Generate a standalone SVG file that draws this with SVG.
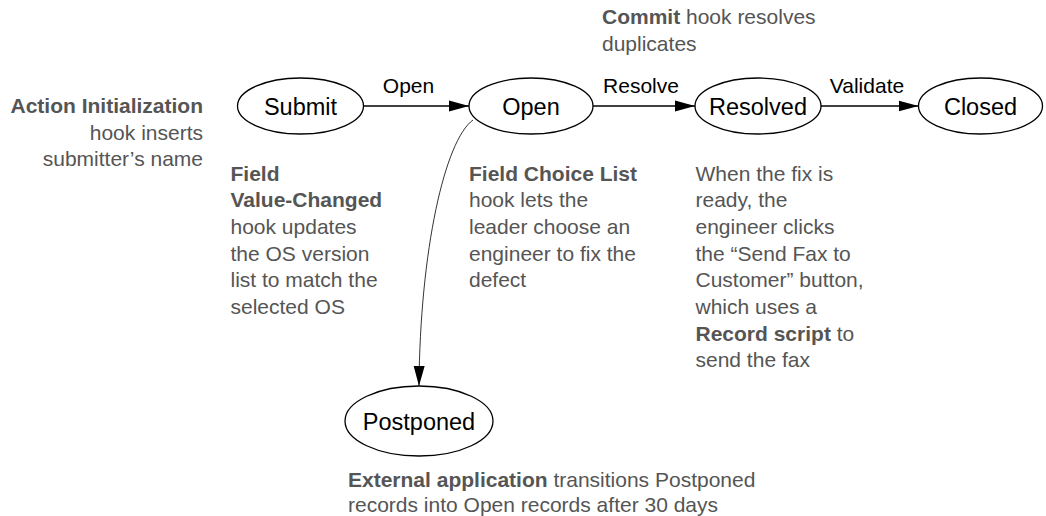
<svg xmlns="http://www.w3.org/2000/svg" width="1046" height="516" viewBox="0 0 1046 516">
  <style>
    .node ellipse { fill: #fff; stroke: #000; stroke-width: 1.3; }
    .node text { font-family: "Liberation Sans", Arial, sans-serif; font-size: 23.5px; fill: #000; text-anchor: middle; }
    .edge { fill: none; stroke: #000; stroke-width: 1.3; }
    .thin { stroke-width: 0.8; }
    .elabel { font-family: "Liberation Sans", Arial, sans-serif; font-size: 21px; fill: #000; text-anchor: middle; }
    .note { font-family: "Liberation Sans", Arial, sans-serif; font-size: 21px; fill: #555; }
    .note .b { font-weight: bold; }
  </style>
  <defs>
    <marker id="arrow" viewBox="0 0 20 12" refX="20" refY="6" markerWidth="20" markerHeight="12" markerUnits="userSpaceOnUse" orient="auto">
      <path d="M0,0.5 L20,6 L0,11.5 z" fill="#000"/>
    </marker>
  </defs>

  <!-- state transitions -->
  <g id="connectors">
    <line class="edge" x1="363.5" y1="106" x2="469" y2="106" marker-end="url(#arrow)"/>
    <text class="elabel" x="408.5" y="93">Open</text>
    <line class="edge" x1="593" y1="106" x2="695" y2="106" marker-end="url(#arrow)"/>
    <text class="elabel" x="641" y="93">Resolve</text>
    <line class="edge" x1="821" y1="106" x2="918.5" y2="106" marker-end="url(#arrow)"/>
    <text class="elabel" x="867" y="93">Validate</text>
    <path class="edge thin" d="M473,120 C445,140 420,250 419,386" marker-end="url(#arrow)"/>
  </g>

  <!-- states -->
  <g id="submit" class="node">
    <ellipse cx="300.5" cy="106" rx="63" ry="28"/>
    <text x="300.5" y="114.5">Submit</text>
  </g>
  <g id="open" class="node">
    <ellipse cx="531" cy="106" rx="62" ry="28"/>
    <text x="531" y="114.5">Open</text>
  </g>
  <g id="resolved" class="node">
    <ellipse cx="758" cy="106" rx="63" ry="28"/>
    <text x="758" y="114.5">Resolved</text>
  </g>
  <g id="closed" class="node">
    <ellipse cx="980.5" cy="106" rx="62" ry="28"/>
    <text x="980.5" y="114.5">Closed</text>
  </g>
  <g id="postponed" class="node">
    <ellipse cx="419" cy="421" rx="74" ry="35"/>
    <text x="419" y="429.5">Postponed</text>
  </g>

  <!-- hook annotations -->
  <g id="note-submit" class="note" text-anchor="end">
    <text x="203" y="113" class="b">Action Initialization</text>
    <text x="203" y="139.7">hook inserts</text>
    <text x="203" y="166.3">submitter’s name</text>
  </g>
  <g id="note-open" class="note">
    <text x="230.5" y="180.5" class="b">Field</text>
    <text x="230.5" y="207.2" class="b">Value-Changed</text>
    <text x="230.5" y="233.8">hook updates</text>
    <text x="230.5" y="260.5">the OS version</text>
    <text x="230.5" y="287.2">list to match the</text>
    <text x="230.5" y="313.8">selected OS</text>
  </g>
  <g id="note-choice" class="note">
    <text x="469" y="180.5" class="b">Field Choice List</text>
    <text x="469" y="207.2">hook lets the</text>
    <text x="469" y="233.8">leader choose an</text>
    <text x="469" y="260.5">engineer to fix the</text>
    <text x="469" y="287.2">defect</text>
  </g>
  <g id="note-resolved" class="note">
    <text x="695.5" y="180.5">When the fix is</text>
    <text x="695.5" y="207.2">ready, the</text>
    <text x="695.5" y="233.8">engineer clicks</text>
    <text x="695.5" y="260.5">the “Send Fax to</text>
    <text x="695.5" y="287.2">Customer” button,</text>
    <text x="695.5" y="313.8">which uses a</text>
    <text x="695.5" y="340.5"><tspan class="b">Record script</tspan> to</text>
    <text x="695.5" y="367.2">send the fax</text>
  </g>
  <g id="note-commit" class="note">
    <text x="602" y="24"><tspan class="b">Commit</tspan> hook resolves</text>
    <text x="602" y="50.7">duplicates</text>
  </g>
  <g id="note-postponed" class="note">
    <text x="348" y="486.5"><tspan class="b">External application</tspan> transitions Postponed</text>
    <text x="348" y="511.5">records into Open records after 30 days</text>
  </g>
</svg>
